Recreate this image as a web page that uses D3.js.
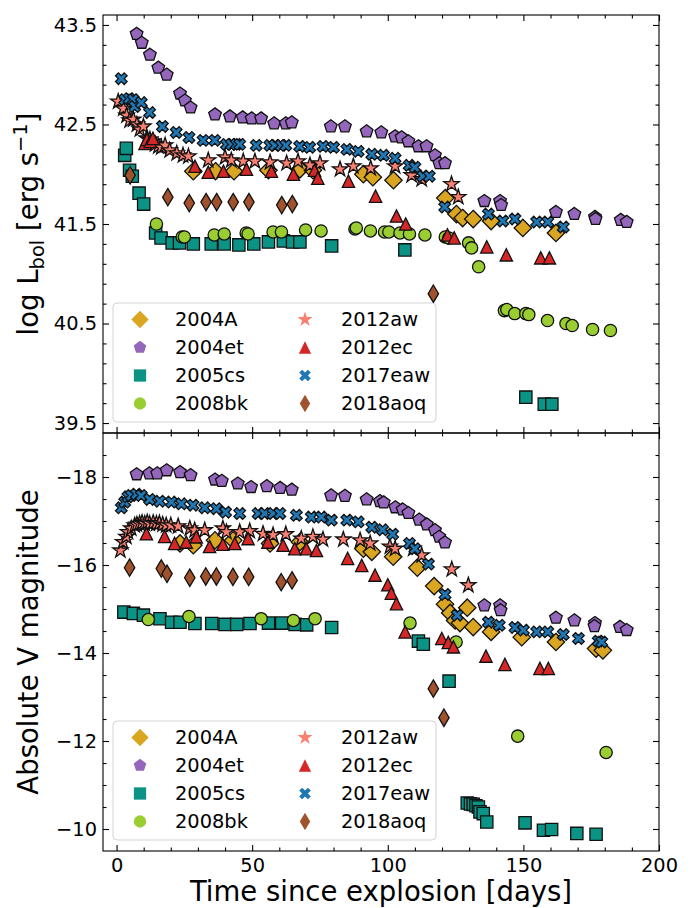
<!DOCTYPE html>
<html>
<head>
<meta charset="utf-8">
<script src="https://cdn.jsdelivr.net/npm/d3@7"></script>
<style>
  body { margin: 0; background: #fff; }
  svg { display: block; font-family: "DejaVu Sans", sans-serif; }
</style>
</head>
<body>
<svg id="chart" width="694" height="908"></svg>
<script>
// supernovae, in legend / plotting order
const snNames = ["2004A", "2004et", "2005cs", "2008bk", "2012aw", "2012ec", "2017eaw", "2018aoq"];
const snColors = ["#daa520", "#9467bd", "#0b9486", "#9acd32", "#fa8072", "#d62728", "#1f77b4", "#a0522d"];
const snMarkers = ["D", "p", "s", "o", "*", "^", "X", "d"];

// bolometric light curves: [days since explosion, log L_bol]
const lum2004A = [[28.3,42.03],[36.5,42.03],[43.3,42.03],[56.0,42.04],[67.6,42.05],[72.4,42.04],[91.0,42.00],[94.5,41.97],[102.1,41.94],[121.2,41.76],[125.3,41.60],[127.6,41.56],[131.5,41.55],[138.1,41.53],[149.8,41.46],[162.0,41.41]];
const lum2004et = [[7.4,43.41],[9.3,43.32],[12.3,43.20],[15.4,43.07],[18.5,43.00],[23.4,42.81],[25.2,42.74],[27.3,42.67],[36.3,42.60],[41.8,42.58],[46.5,42.57],[49.8,42.56],[53.3,42.56],[58.1,42.51],[62.4,42.51],[64.6,42.52],[79.0,42.48],[84.2,42.48],[92.2,42.43],[97.6,42.42],[102.7,42.38],[105.1,42.37],[107.6,42.33],[111.3,42.28],[114.3,42.28],[117.4,42.19],[119.0,42.11],[121.1,42.11],[135.6,41.73],[141.4,41.73],[141.8,41.69],[162.0,41.62],[168.8,41.60],[176.4,41.57],[176.6,41.55],[185.9,41.54],[188.1,41.52]];
const lum2005cs = [[3.0,42.19],[3.6,42.26],[4.8,42.04],[5.8,41.98],[8.3,41.81],[10.0,41.70],[14.4,41.41],[16.4,41.36],[20.5,41.31],[23.2,41.31],[28.3,41.30],[34.9,41.30],[39.7,41.30],[45.1,41.29],[50.6,41.30],[56.0,41.32],[61.5,41.33],[64.9,41.32],[67.6,41.32],[79.3,41.28],[106.3,41.24],[150.9,39.76],[157.7,39.69],[160.5,39.69]];
const lum2008bk = [[14.7,41.50],[24.2,41.37],[25.0,41.37],[36.0,41.39],[39.7,41.40],[47.8,41.41],[48.5,41.40],[57.7,41.42],[60.8,41.42],[69.7,41.44],[75.4,41.43],[87.9,41.45],[88.4,41.46],[93.6,41.43],[98.8,41.42],[100.4,41.42],[104.5,41.41],[108.0,41.40],[113.7,41.39],[121.2,41.37],[122.5,41.36],[129.8,41.31],[130.9,41.26],[133.5,41.07],[143.0,40.63],[143.9,40.64],[146.8,40.60],[150.9,40.60],[152.0,40.59],[158.9,40.53],[165.7,40.50],[168.0,40.48],[175.5,40.44],[182.1,40.43]];
const lum2012aw = [[0.6,42.73],[2.5,42.66],[3.7,42.59],[4.8,42.54],[6.2,42.55],[7.5,42.50],[8.6,42.45],[9.9,42.48],[11.1,42.36],[12.3,42.35],[13.5,42.33],[14.2,42.30],[15.4,42.28],[16.5,42.27],[17.9,42.29],[19.6,42.24],[22.2,42.21],[24.5,42.19],[26.5,42.18],[33.8,42.14],[40.0,42.17],[42.3,42.14],[46.7,42.13],[51.0,42.13],[56.6,42.12],[62.7,42.11],[66.9,42.13],[71.3,42.09],[75.0,42.11],[82.4,42.05],[87.3,42.08],[93.7,42.06],[102.7,42.08],[108.8,41.99],[112.5,41.95],[123.5,41.90],[126.0,41.77]];
const lum2012ec = [[10.5,42.31],[11.2,42.35],[12.4,42.33],[13.4,42.36],[28.9,42.08],[33.8,42.02],[39.4,42.03],[47.9,42.05],[57.1,42.03],[65.2,42.00],[73.0,42.04],[74.2,41.96],[85.5,41.93],[95.5,41.78],[103.2,41.58],[106.6,41.50],[122.0,41.39],[124.5,41.36],[136.5,41.27],[143.7,41.19],[156.4,41.16],[159.6,41.16]];
const lum2017eaw = [[1.75,42.96],[3.0,42.75],[4.6,42.76],[6.1,42.75],[6.7,42.68],[9.1,42.72],[12.2,42.62],[16.9,42.48],[22.0,42.42],[26.7,42.37],[31.9,42.34],[36.2,42.34],[40.5,42.30],[42.3,42.30],[44.2,42.30],[45.4,42.30],[51.5,42.29],[56.5,42.29],[58.3,42.29],[60.7,42.29],[62.4,42.29],[67.5,42.28],[71.2,42.27],[76.1,42.28],[80.0,42.27],[84.9,42.25],[89.1,42.23],[94.1,42.20],[98.4,42.19],[102.7,42.16],[107.9,42.09],[110.0,42.07],[112.9,41.98],[115.3,41.98],[121.0,41.67],[137.1,41.60],[142.4,41.53],[146.9,41.55],[154.9,41.52],[159.0,41.52],[164.7,41.47]];
const lum2018aoq = [[5.0,41.99],[18.9,41.77],[26.8,41.71],[33.0,41.72],[36.9,41.72],[43.0,41.72],[48.8,41.72],[60.9,41.69],[64.8,41.70],[116.8,40.80]];

// V-band light curves: [days since explosion, absolute V magnitude]
const mag2004A = [[23.4,-16.49],[28.3,-16.45],[36.3,-16.56],[43.0,-16.56],[56.6,-16.49],[67.6,-16.52],[91.0,-16.37],[94.1,-16.30],[102.0,-16.19],[110.9,-15.94],[117.1,-15.52],[121.1,-15.11],[123.0,-14.91],[124.8,-14.74],[126.6,-14.68],[129.3,-15.03],[131.5,-14.59],[138.1,-14.48],[149.4,-14.36],[162.0,-14.25],[176.8,-14.10],[179.3,-14.06]];
const mag2004et = [[7.4,-18.06],[12.1,-18.08],[15.0,-18.08],[18.5,-18.15],[23.4,-18.11],[27.3,-18.04],[36.3,-17.94],[38.8,-17.91],[44.7,-17.85],[49.6,-17.77],[55.4,-17.79],[60.3,-17.75],[64.6,-17.71],[79.1,-17.58],[84.2,-17.57],[92.2,-17.49],[97.1,-17.45],[98.5,-17.42],[102.8,-17.31],[105.5,-17.26],[107.6,-17.18],[111.6,-17.03],[114.4,-16.92],[117.4,-16.79],[119.0,-16.64],[121.1,-16.51],[135.6,-15.08],[141.4,-15.08],[141.6,-14.97],[162.0,-14.80],[168.8,-14.74],[176.4,-14.68],[176.2,-14.61],[185.6,-14.59],[188.1,-14.52]];
const mag2005cs = [[2.7,-14.93],[6.2,-14.90],[9.9,-14.86],[16.0,-14.78],[20.3,-14.70],[23.4,-14.70],[28.9,-14.67],[35.1,-14.67],[40.0,-14.65],[44.3,-14.65],[49.2,-14.67],[56.0,-14.68],[60.9,-14.68],[65.8,-14.65],[70.1,-14.64],[79.3,-14.58],[111.3,-14.27],[113.1,-14.20],[122.6,-13.36],[129.3,-10.59],[130.5,-10.57],[131.5,-10.56],[132.5,-10.53],[133.4,-10.50],[134.0,-10.39],[135.2,-10.35],[136.5,-10.16],[150.6,-10.14],[157.4,-9.97],[160.4,-9.99],[169.7,-9.90],[176.8,-9.88]];
const mag2008bk = [[11.7,-14.76],[26.7,-14.83],[53.3,-14.78],[65.2,-14.74],[73.2,-14.78],[108.2,-14.68],[125.2,-14.25],[147.9,-12.11],[180.5,-11.74]];
const mag2012aw = [[1.4,-16.33],[2.4,-16.52],[3.6,-16.64],[4.2,-16.75],[5.4,-16.83],[6.7,-16.90],[7.5,-16.92],[8.5,-16.94],[9.4,-16.96],[10.4,-16.94],[11.3,-16.97],[12.2,-16.94],[13.5,-16.96],[14.7,-16.94],[15.8,-16.95],[17.0,-16.92],[18.3,-16.90],[20.0,-16.90],[22.7,-16.88],[27.0,-16.83],[28.8,-16.79],[32.5,-16.79],[39.2,-16.83],[40.5,-16.75],[45.4,-16.75],[49.1,-16.77],[54.0,-16.71],[57.7,-16.68],[62.4,-16.70],[68.1,-16.60],[72.4,-16.64],[76.1,-16.58],[83.6,-16.58],[89.8,-16.56],[93.5,-16.49],[100.8,-16.42],[102.7,-16.37],[109.4,-16.37],[112.5,-16.22],[123.6,-15.90],[129.7,-15.54]];
const mag2012ec = [[11.0,-16.71],[17.7,-16.65],[21.4,-16.49],[25.7,-16.52],[29.4,-16.64],[34.3,-16.42],[39.2,-16.47],[43.6,-16.49],[48.5,-16.60],[55.8,-16.52],[61.4,-16.45],[65.7,-16.37],[70.0,-16.37],[73.7,-16.33],[85.2,-16.15],[90.4,-15.99],[95.3,-15.77],[100.0,-15.55],[101.3,-15.36],[103.2,-15.12],[106.4,-14.48],[119.9,-14.33],[122.3,-14.24],[124.2,-14.14],[136.2,-13.93],[143.2,-13.74],[156.1,-13.65],[159.2,-13.65]];
const mag2017eaw = [[1.75,-17.30],[3.0,-17.43],[4.2,-17.55],[5.4,-17.58],[7.3,-17.61],[9.1,-17.58],[12.2,-17.49],[15.9,-17.45],[20.2,-17.43],[23.9,-17.39],[28.2,-17.36],[32.5,-17.30],[36.8,-17.28],[40.2,-17.20],[45.4,-17.17],[52.2,-17.17],[54.6,-17.17],[57.7,-17.17],[60.2,-17.17],[66.3,-17.13],[71.8,-17.09],[75.5,-17.09],[79.2,-17.02],[84.9,-17.02],[89.1,-16.98],[94.1,-16.86],[98.1,-16.80],[101.8,-16.70],[108.0,-16.49],[110.0,-16.37],[115.0,-16.02],[121.1,-15.33],[125.6,-14.86],[137.1,-14.70],[141.1,-14.63],[146.9,-14.58],[150.0,-14.52],[154.9,-14.48],[159.0,-14.48],[164.7,-14.42],[170.3,-14.33],[177.6,-14.27],[178.9,-14.25]];
const mag2018aoq = [[4.8,-15.94],[16.5,-15.92],[18.6,-15.80],[27.0,-15.71],[32.9,-15.74],[36.8,-15.74],[42.9,-15.73],[48.7,-15.73],[60.7,-15.61],[64.7,-15.65],[116.8,-13.19],[120.7,-12.53]];

// axis ticks
const dayTicks = [0, 50, 100, 150, 200];
const dayMinor = [10, 20, 30, 40, 60, 70, 80, 90, 110, 120, 130, 140, 160, 170, 180, 190];
const lumTicks = [39.5, 40.5, 41.5, 42.5, 43.5];
const lumMinor = [39.7, 39.9, 40.1, 40.3, 40.7, 40.9, 41.1, 41.3, 41.7, 41.9, 42.1, 42.3, 42.7, 42.9, 43.1, 43.3];
const magTicks = [-18, -16, -14, -12, -10];
const magMinor = [-18.5, -17.5, -17, -16.5, -15.5, -15, -14.5, -13.5, -13, -12.5, -11.5, -11, -10.5];

const lumSeries = [lum2004A, lum2004et, lum2005cs, lum2008bk, lum2012aw, lum2012ec, lum2017eaw, lum2018aoq];
const magSeries = [mag2004A, mag2004et, mag2005cs, mag2008bk, mag2012aw, mag2012ec, mag2017eaw, mag2018aoq];

const left = 103, right = 659;
const top1 = 15, mid = 433, bottom2 = 851;
const markerSize = 12.3;

const svg = d3.select("#chart");
svg.append("rect").attr("width", 694).attr("height", 908).attr("fill", "#fff");

const x = d3.scaleLinear().domain([-5, 200]).range([left, right]);
const yLum = d3.scaleLinear().domain([39.4, 43.6]).range([mid, top1]);
const yMag = d3.scaleLinear().domain([-19, -9.5]).range([mid, bottom2]);

// matplotlib-like marker outlines, centred on 0,0
function markerPath(type, s) {
  const r = s / 2;
  const polar = (rad, deg) => [rad * Math.cos(deg * Math.PI / 180), rad * Math.sin(deg * Math.PI / 180)];
  let pts;
  if (type === "o") return d3.symbol(d3.symbolCircle, Math.PI * r * r)();
  if (type === "s") pts = [[-r, -r], [r, -r], [r, r], [-r, r]];
  if (type === "D") { const h = r * Math.SQRT2; pts = [[0, -h], [h, 0], [0, h], [-h, 0]]; }
  if (type === "d") { const h = r * Math.SQRT2; pts = [[0, -h], [0.6 * h, 0], [0, h], [-0.6 * h, 0]]; }
  if (type === "^") pts = [[0, -r], [r, r], [-r, r]];
  if (type === "p") pts = d3.range(5).map(k => polar(r * 1.08, -90 + 72 * k));
  if (type === "*") pts = d3.range(10).map(k => polar(k % 2 ? r * 1.3 * 0.381966 : r * 1.3, -90 + 36 * k));
  if (type === "X") {
    const plus = [[-1,-3],[1,-3],[1,-1],[3,-1],[3,1],[1,1],[1,3],[-1,3],[-1,1],[-3,1],[-3,-1],[-1,-1]];
    pts = plus.map(p => {
      const px = p[0] * s / 6, py = p[1] * s / 6;
      return [(px - py) / Math.SQRT2, (px + py) / Math.SQRT2];
    });
  }
  return d3.line()(pts) + "Z";
}

function styleAxis(g) {
  g.select(".domain").remove();
  g.attr("font-size", 19.4).attr("font-family", "DejaVu Sans").attr("color", "#000");
  g.selectAll("line").attr("stroke-width", 1.1);
}

function drawPanel(y0, y1, yScale, major, minor, fmt, showX, series) {
  const g = svg.append("g");

  // points, later series drawn on top
  series.forEach((data, i) => {
    const path = markerPath(snMarkers[i], markerSize);
    g.append("g").selectAll("path")
      .data(data)
      .join("path")
      .attr("d", path)
      .attr("transform", d => `translate(${x(d[0])},${yScale(d[1])})`)
      .attr("fill", snColors[i])
      .attr("stroke", "#111")
      .attr("stroke-width", 1.3)
      .attr("stroke-linejoin", "miter");
  });

  // ticks pointing inwards on all four sides
  g.append("g").attr("transform", `translate(${left},0)`)
    .call(d3.axisLeft(yScale).tickValues(major).tickSize(-6).tickPadding(6).tickFormat(fmt)).call(styleAxis);
  g.append("g").attr("transform", `translate(${left},0)`)
    .call(d3.axisLeft(yScale).tickValues(minor).tickSize(-3.5).tickFormat("")).call(styleAxis);
  g.append("g").attr("transform", `translate(${right},0)`)
    .call(d3.axisRight(yScale).tickValues(major).tickSize(-6).tickFormat("")).call(styleAxis);
  g.append("g").attr("transform", `translate(${right},0)`)
    .call(d3.axisRight(yScale).tickValues(minor).tickSize(-3.5).tickFormat("")).call(styleAxis);
  g.append("g").attr("transform", `translate(0,${y0})`)
    .call(d3.axisTop(x).tickValues(dayTicks).tickSize(-6).tickFormat("")).call(styleAxis);
  g.append("g").attr("transform", `translate(0,${y0})`)
    .call(d3.axisTop(x).tickValues(dayMinor).tickSize(-3.5).tickFormat("")).call(styleAxis);
  g.append("g").attr("transform", `translate(0,${y1})`)
    .call(d3.axisBottom(x).tickValues(dayTicks).tickSize(-6).tickPadding(7).tickFormat(showX ? d3.format("d") : "")).call(styleAxis);
  g.append("g").attr("transform", `translate(0,${y1})`)
    .call(d3.axisBottom(x).tickValues(dayMinor).tickSize(-3.5).tickFormat("")).call(styleAxis);

  g.append("rect")
    .attr("x", left).attr("y", y0)
    .attr("width", right - left).attr("height", y1 - y0)
    .attr("fill", "none").attr("stroke", "#000").attr("stroke-width", 1.1);

  // legend, two columns, bottom left
  const lg = g.append("g").attr("transform", `translate(113,${y1 - 130})`);
  lg.append("rect")
    .attr("width", 323).attr("height", 119).attr("rx", 4)
    .attr("fill", "#fff").attr("fill-opacity", 0.8)
    .attr("stroke", "#d3d3d3").attr("stroke-width", 1);
  snNames.forEach((name, i) => {
    const col = Math.floor(i / 4), row = i % 4;
    const item = lg.append("g").attr("transform", `translate(${col ? 192 : 27},${16.5 + row * 28})`);
    item.append("path").attr("d", markerPath(snMarkers[i], markerSize)).attr("fill", snColors[i]);
    item.append("text").attr("x", col ? 36 : 35).attr("dy", "0.36em")
      .attr("font-size", 19.4).text(name);
  });
}

drawPanel(top1, mid, yLum, lumTicks, lumMinor, d3.format(".1f"), false, lumSeries);
drawPanel(mid, bottom2, yMag, magTicks, magMinor, d3.format("d"), true, magSeries);

// axis titles
const ylab1 = svg.append("text")
  .attr("transform", `translate(38,${(top1 + mid) / 2}) rotate(-90)`)
  .attr("text-anchor", "middle").attr("font-size", 27.5);
ylab1.append("tspan").text("log L");
ylab1.append("tspan").attr("dy", 6).attr("font-size", 19.5).text("bol");
ylab1.append("tspan").attr("dy", -6).text(" [erg s");
ylab1.append("tspan").attr("dy", -11).attr("font-size", 19.5).text("−1");
ylab1.append("tspan").attr("dy", 11).text("]");

svg.append("text")
  .attr("transform", `translate(38,${(mid + bottom2) / 2}) rotate(-90)`)
  .attr("text-anchor", "middle").attr("font-size", 27.5)
  .text("Absolute V magnitude");

svg.append("text")
  .attr("x", (left + right) / 2).attr("y", 901)
  .attr("text-anchor", "middle").attr("font-size", 27.5)
  .text("Time since explosion [days]");
</script>
</body>
</html>
